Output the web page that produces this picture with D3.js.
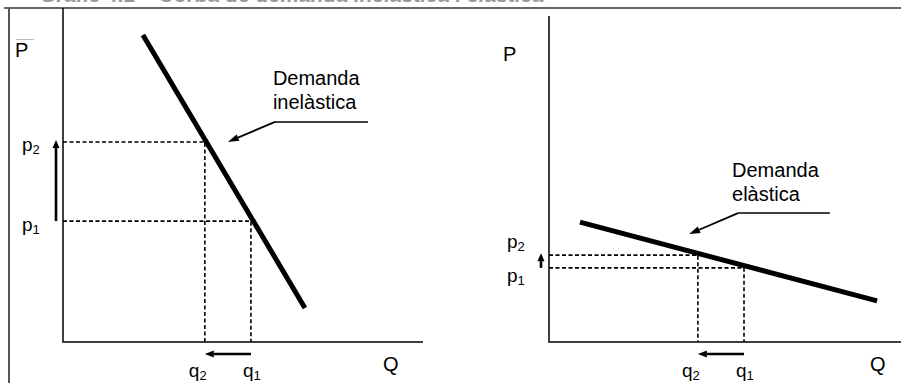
<!DOCTYPE html>
<html>
<head>
<meta charset="utf-8">
<script src="https://cdn.jsdelivr.net/npm/d3@7"></script>
<style>
  body { margin: 0; background: #fff; }
  text { font-family: "Liberation Sans", Arial, sans-serif; fill: #000; }
</style>
</head>
<body>
<svg id="chart" width="901" height="383"></svg>
<script>
    // values, in axis units (0..100 on both axes)
    var title = "Gràfic 4.1 – Corba de demanda inelàstica i elàstica";
    var panelLabels = [["Demanda", "inelàstica"], ["Demanda", "elàstica"]];
    var demandInelastic = [[22.2, 91.9], [67.2, 10.2]];   // [Q, P]
    var demandElastic = [[8.8, 35.9], [93.2, 12.3]];
    var prices = [[36.2, 59.9], [22.2, 26.0]];            // [p1, p2] per panel
    var quantities = [[52.2, 39.4], [55.4, 42.3]];        // [q1, q2] per panel
    var axisTop = [100, 97.6];

    var svg = d3.select("#chart");

    // layout of the two panels
    var panels = [
        {
            demand: demandInelastic, p: prices[0], q: quantities[0], label: panelLabels[0], top: axisTop[0],
            xRange: [63, 423],
            pLabelX: 22, pLabelDy: [10, 9],
            Plab: [15, 57], Qlab: [383, 371],
            arrowX: -7,
            leader: { tip: [45.8, 59.9], elbow: [58.9, 65.9], end: 84.7 },
            text: [58.3, 76.9]
        },
        {
            demand: demandElastic, p: prices[1], q: quantities[1], label: panelLabels[1], top: axisTop[1],
            xRange: [549, 901],
            pLabelX: 507, pLabelDy: [14, -7],
            Plab: [503, 61], Qlab: [870, 371],
            arrowX: -8,
            leader: { tip: [39.8, 32.3], elbow: [53.7, 38.6], end: 79.8 },
            text: [52.0, 49.4]
        }
    ];

    // frame and the caption, cut by the top edge as in the scan
    svg.append("text")
        .attr("x", 40).attr("y", 1.5)
        .style("font-size", "21px").style("font-style", "italic").style("font-weight", "bold")
        .style("fill", "#999")
        .text(title);
    svg.append("line")
        .attr("x1", 4).attr("x2", 901).attr("y1", 8).attr("y2", 8)
        .attr("stroke", "#333").attr("stroke-width", 1.5);
    svg.append("line")
        .attr("x1", 9).attr("x2", 9).attr("y1", 8).attr("y2", 383)
        .attr("stroke", "#555").attr("stroke-width", 2);
    svg.append("line")
        .attr("x1", 16).attr("x2", 34).attr("y1", 39.5).attr("y2", 39.5)
        .attr("stroke", "#bbb").attr("stroke-width", 1);

    function arrow(g, x1, y1, x2, y2, width, headLen, headW) {
        var a = Math.atan2(y2 - y1, x2 - x1);
        var bx = x2 - headLen * Math.cos(a);
        var by = y2 - headLen * Math.sin(a);
        g.append("line")
            .attr("x1", x1).attr("y1", y1).attr("x2", bx).attr("y2", by)
            .attr("stroke", "#000").attr("stroke-width", width);
        var nx = -Math.sin(a) * headW / 2;
        var ny = Math.cos(a) * headW / 2;
        g.append("path")
            .attr("d", "M" + x2 + "," + y2 + "L" + (bx + nx) + "," + (by + ny) + "L" + (bx - nx) + "," + (by - ny) + "Z")
            .attr("fill", "#000");
    }

    function sub(g, x, y, base, s) {
        var t = g.append("text").attr("x", x).attr("y", y).style("font-size", "19px");
        t.append("tspan").text(base);
        t.append("tspan").attr("dy", 3).style("font-size", "13px").text(s);
    }

    panels.forEach(function(d) {
        var g = svg.append("g");
        var x = d3.scaleLinear().domain([0, 100]).range(d.xRange);
        var y = d3.scaleLinear().domain([0, 100]).range([342, 8]);
        var line = d3.line().x(function(p) { return x(p[0]); }).y(function(p) { return y(p[1]); });

        // axes
        g.append("path")
            .attr("d", line([[0, d.top], [0, 0], [100, 0]]))
            .attr("fill", "none").attr("stroke", "#000").attr("stroke-width", 1.5);

        // dashed guides
        var guides = [
            [[0, d.p[1]], [d.q[1], d.p[1]], [d.q[1], 0]],
            [[0, d.p[0]], [d.q[0], d.p[0]], [d.q[0], 0]]
        ];
        g.selectAll("path.guide").data(guides).enter()
            .append("path").attr("class", "guide")
            .attr("d", line)
            .attr("fill", "none").attr("stroke", "#000").attr("stroke-width", 1.6)
            .attr("stroke-dasharray", "4,2.5");

        // demand curve
        g.append("path")
            .attr("d", line(d.demand))
            .attr("fill", "none").attr("stroke", "#000").attr("stroke-width", 5);

        // price and quantity change arrows
        arrow(g, x(0) + d.arrowX, y(d.p[0]), x(0) + d.arrowX, y(d.p[1]) - 2, 2.6, 8, 7);
        arrow(g, x(d.q[0]), y(0) + 12, x(d.q[1]), y(0) + 12, 2.4, 9, 7);

        // axis labels
        g.append("text").attr("x", d.Plab[0]).attr("y", d.Plab[1]).style("font-size", "20px").text("P");
        g.append("text").attr("x", d.Qlab[0]).attr("y", d.Qlab[1]).style("font-size", "20px").text("Q");
        sub(g, d.pLabelX, y(d.p[1]) + d.pLabelDy[1], "p", "2");
        sub(g, d.pLabelX, y(d.p[0]) + d.pLabelDy[0], "p", "1");
        sub(g, x(d.q[1]) - 16, 377, "q", "2");
        sub(g, x(d.q[0]) - 8, 377, "q", "1");

        // annotation
        var t = g.append("text").attr("x", x(d.text[0])).attr("y", y(d.text[1])).style("font-size", "20px");
        t.append("tspan").text(d.label[0]);
        t.append("tspan").attr("x", x(d.text[0])).attr("dy", 23.5).text(d.label[1]);
        var L = d.leader;
        g.append("line")
            .attr("x1", x(L.elbow[0])).attr("y1", y(L.elbow[1]))
            .attr("x2", x(L.end)).attr("y2", y(L.elbow[1]))
            .attr("stroke", "#000").attr("stroke-width", 1.5);
        arrow(g, x(L.elbow[0]), y(L.elbow[1]), x(L.tip[0]), y(L.tip[1]), 1.8, 11, 7);
    });
</script>
</body>
</html>
